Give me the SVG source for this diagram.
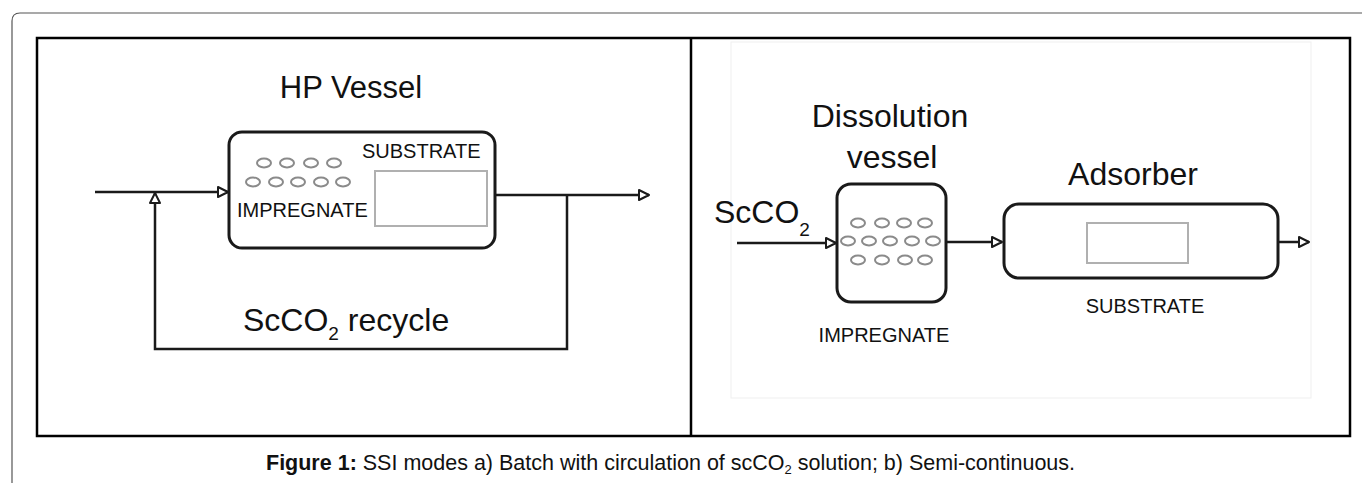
<svg xmlns="http://www.w3.org/2000/svg" width="1362" height="483" viewBox="0 0 1362 483">
<defs>
<style>
.t{font-family:"Liberation Sans",Arial,sans-serif;fill:#111}
.ln{fill:none;stroke:#1a1a1a;stroke-width:2.5}
.box{fill:#fff;stroke:#1a1a1a;stroke-width:3}
.ov{fill:none;stroke:#8a8a8a;stroke-width:2}
.sub{fill:none;stroke:#b0b0b0;stroke-width:2}
</style>
<marker id="ah" markerUnits="userSpaceOnUse" markerWidth="14" markerHeight="14" refX="11" refY="6" orient="auto">
<path d="M1,1 L11,6 L1,11 Z" fill="#fff" stroke="#1a1a1a" stroke-width="2" stroke-linejoin="round"/>
</marker>
</defs>
<rect width="1362" height="483" fill="#fff"/>
<g id="frame">
<path d="M12,490 L12,21 Q12,13 20,13 L1370,13" fill="none" stroke="#555" stroke-width="1.2"/>
<rect x="37" y="38" width="1313" height="398" fill="none" stroke="#000" stroke-width="2.5"/>
<line x1="691" y1="38" x2="691" y2="436" stroke="#000" stroke-width="2.5"/>
<rect x="731" y="42" width="580" height="356" fill="none" stroke="#efefef" stroke-width="1"/>
</g>
<g id="connectors">
<line class="ln" x1="95" y1="192" x2="228" y2="192" marker-end="url(#ah)"/>
<line class="ln" x1="495" y1="195" x2="649" y2="195" marker-end="url(#ah)"/>
<polyline class="ln" points="567,195 567,349 155,349 155,193" marker-end="url(#ah)"/>
<line class="ln" x1="737" y1="243" x2="836" y2="243" marker-end="url(#ah)"/>
<line class="ln" x1="946" y1="242" x2="1002" y2="242" marker-end="url(#ah)"/>
<line class="ln" x1="1278" y1="242" x2="1309" y2="242" marker-end="url(#ah)"/>
</g>
<g id="hp-vessel">
<text class="t" x="351" y="98" font-size="31" text-anchor="middle">HP Vessel</text>
<rect class="box" x="229" y="132" width="266" height="116" rx="13"/>
<ellipse class="ov" cx="264" cy="163" rx="7" ry="4.5"/>
<ellipse class="ov" cx="287" cy="163" rx="7" ry="4.5"/>
<ellipse class="ov" cx="311" cy="163" rx="7" ry="4.5"/>
<ellipse class="ov" cx="334" cy="163" rx="7" ry="4.5"/>
<ellipse class="ov" cx="253" cy="182" rx="7" ry="4.5"/>
<ellipse class="ov" cx="276" cy="182" rx="7" ry="4.5"/>
<ellipse class="ov" cx="298" cy="182" rx="7" ry="4.5"/>
<ellipse class="ov" cx="321" cy="182" rx="7" ry="4.5"/>
<ellipse class="ov" cx="343" cy="182" rx="7" ry="4.5"/>
<text class="t" x="362" y="158" font-size="20">SUBSTRATE</text>
<text class="t" x="237" y="217" font-size="20">IMPREGNATE</text>
<rect class="sub" x="375" y="171" width="112" height="55"/>
</g>
<g id="recycle-label">
<text class="t" x="243" y="331" font-size="32">ScCO<tspan font-size="19" dy="9">2</tspan><tspan dy="-9"> recycle</tspan></text>
</g>
<g id="scco2-inlet">
<text class="t" x="714" y="223" font-size="32">ScCO<tspan font-size="19" dy="13">2</tspan></text>
</g>
<g id="dissolution-vessel">
<text class="t" x="890" y="127" font-size="32" text-anchor="middle">Dissolution</text>
<text class="t" x="892" y="168" font-size="32" text-anchor="middle">vessel</text>
<rect class="box" x="837" y="184" width="109" height="118" rx="14"/>
<ellipse class="ov" cx="858" cy="223" rx="7" ry="4.5"/>
<ellipse class="ov" cx="882" cy="223" rx="7" ry="4.5"/>
<ellipse class="ov" cx="904" cy="223" rx="7" ry="4.5"/>
<ellipse class="ov" cx="925" cy="223" rx="7" ry="4.5"/>
<ellipse class="ov" cx="848" cy="241" rx="7" ry="4.5"/>
<ellipse class="ov" cx="869" cy="241" rx="7" ry="4.5"/>
<ellipse class="ov" cx="890" cy="241" rx="7" ry="4.5"/>
<ellipse class="ov" cx="912" cy="241" rx="7" ry="4.5"/>
<ellipse class="ov" cx="933" cy="241" rx="7" ry="4.5"/>
<ellipse class="ov" cx="858" cy="260" rx="7" ry="4.5"/>
<ellipse class="ov" cx="882" cy="260" rx="7" ry="4.5"/>
<ellipse class="ov" cx="905" cy="260" rx="7" ry="4.5"/>
<ellipse class="ov" cx="925" cy="260" rx="7" ry="4.5"/>
<text class="t" x="884" y="342" font-size="20" text-anchor="middle">IMPREGNATE</text>
</g>
<g id="adsorber">
<text class="t" x="1133" y="185" font-size="32" text-anchor="middle">Adsorber</text>
<rect class="box" x="1004" y="204" width="274" height="74" rx="15"/>
<rect class="sub" x="1087" y="223" width="101" height="40"/>
<text class="t" x="1145" y="313" font-size="20" text-anchor="middle">SUBSTRATE</text>
</g>
<g id="caption">
<text class="t" x="266" y="470" font-size="21.5"><tspan font-weight="bold">Figure 1:</tspan> SSI modes a) Batch with circulation of scCO<tspan font-size="13" dy="4">2</tspan><tspan dy="-4"> solution; b) Semi-continuous.</tspan></text>
</g>
</svg>
